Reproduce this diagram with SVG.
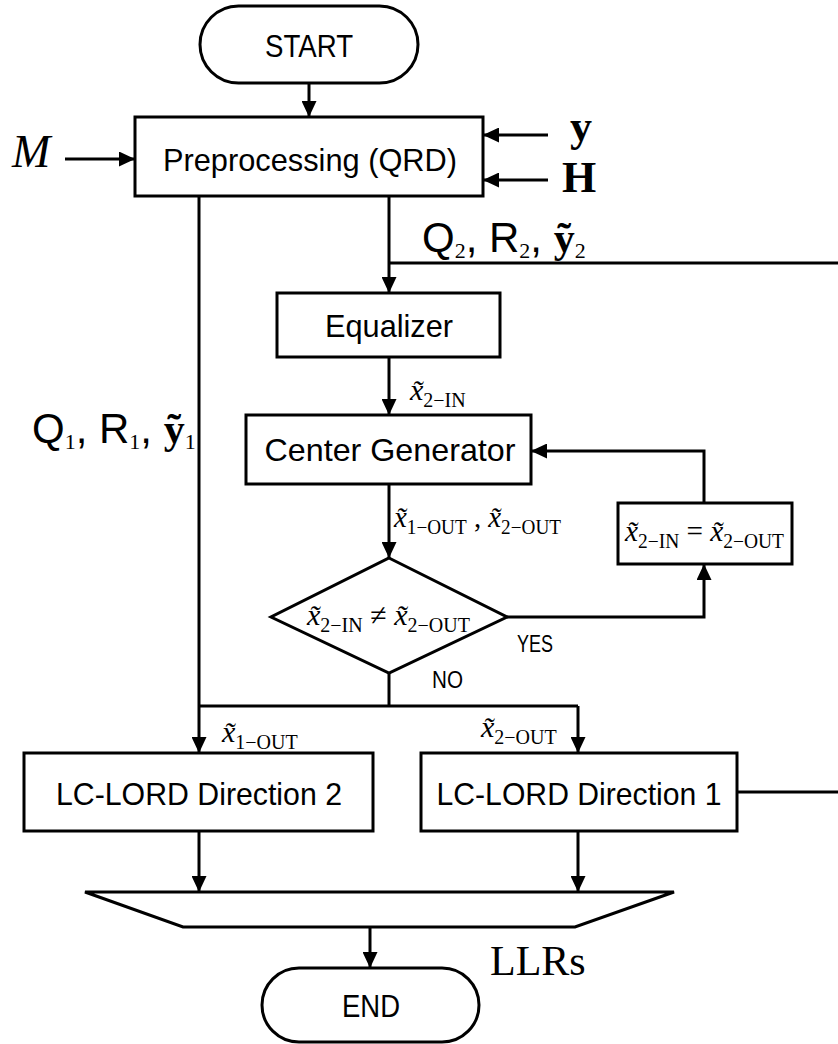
<svg xmlns="http://www.w3.org/2000/svg" width="838" height="1044" viewBox="0 0 838 1044">
<defs>
<marker id="ah" markerUnits="userSpaceOnUse" markerWidth="17" markerHeight="15" refX="16" refY="7.5" orient="auto">
<path d="M0,0 L16,7.5 L0,15 z" fill="#000"/>
</marker>
<style>
.box{fill:#fff;stroke:#000;stroke-width:3}
.ln{fill:none;stroke:#000;stroke-width:3}
.sans{font-family:"Liberation Sans",Arial,sans-serif;fill:#000}
.serif{font-family:"Liberation Serif","Times New Roman",serif;fill:#000}
.lbl{font-size:32px;text-anchor:middle}
.it{font-style:italic}
.sub{font-size:20px}
</style>
</defs>
<rect width="838" height="1044" fill="#fff"/>

<g id="connectors">
<line class="ln" x1="309" y1="83" x2="309" y2="117" marker-end="url(#ah)"/>
<line class="ln" x1="65" y1="159" x2="135" y2="159" marker-end="url(#ah)"/>
<line class="ln" x1="548" y1="135" x2="483" y2="135" marker-end="url(#ah)"/>
<line class="ln" x1="548" y1="180" x2="483" y2="180" marker-end="url(#ah)"/>
<line class="ln" x1="389" y1="196" x2="389" y2="293" marker-end="url(#ah)"/>
<line class="ln" x1="389" y1="263" x2="838" y2="263"/>
<line class="ln" x1="199" y1="196" x2="199" y2="753" marker-end="url(#ah)"/>
<line class="ln" x1="389" y1="357" x2="389" y2="415" marker-end="url(#ah)"/>
<line class="ln" x1="389" y1="484" x2="389" y2="558" marker-end="url(#ah)"/>
<polyline class="ln" points="704,503 704,451 531,451" marker-end="url(#ah)"/>
<polyline class="ln" points="507,617 704,617 704,564" marker-end="url(#ah)"/>
<line class="ln" x1="389" y1="673" x2="389" y2="706"/>
<line class="ln" x1="199" y1="706" x2="578" y2="706"/>
<line class="ln" x1="578" y1="706" x2="578" y2="753" marker-end="url(#ah)"/>
<line class="ln" x1="737" y1="792" x2="838" y2="792"/>
<line class="ln" x1="199" y1="831" x2="199" y2="892" marker-end="url(#ah)"/>
<line class="ln" x1="578" y1="831" x2="578" y2="892" marker-end="url(#ah)"/>
<line class="ln" x1="370" y1="927" x2="370" y2="968" marker-end="url(#ah)"/>
</g>

<g id="start">
<rect class="box" x="200" y="6" width="218" height="77" rx="38.5"/>
<text class="sans lbl" x="309" y="57" textLength="88" lengthAdjust="spacingAndGlyphs">START</text>
</g>

<g id="preprocessing">
<rect class="box" x="135" y="117" width="348" height="79"/>
<text class="sans lbl" x="310" y="171" textLength="294" lengthAdjust="spacingAndGlyphs">Preprocessing (QRD)</text>
</g>

<g id="input-M">
<text class="serif it" x="12" y="167" font-size="46">M</text>
</g>
<g id="input-y">
<text class="serif" x="570" y="141" font-size="44" font-weight="bold">y</text>
</g>
<g id="input-H">
<text class="serif" x="562" y="192" font-size="44" font-weight="bold">H</text>
</g>

<g id="label-Q2">
<text class="sans" x="422" y="252" font-size="42">Q<tspan class="serif" font-size="22" dy="6">2</tspan><tspan dy="-6">, R</tspan><tspan class="serif" font-size="22" dy="6">2</tspan><tspan dy="-6">, </tspan><tspan class="serif" font-weight="bold">ỹ</tspan><tspan class="serif" font-size="22" dy="6">2</tspan></text>
</g>

<g id="label-Q1">
<text class="sans" x="32" y="443" font-size="42">Q<tspan class="serif" font-size="22" dy="6">1</tspan><tspan dy="-6">, R</tspan><tspan class="serif" font-size="22" dy="6">1</tspan><tspan dy="-6">, </tspan><tspan class="serif" font-weight="bold">ỹ</tspan><tspan class="serif" font-size="22" dy="6">1</tspan></text>
</g>

<g id="equalizer">
<rect class="box" x="277" y="293" width="223" height="64"/>
<text class="sans lbl" x="389" y="337" textLength="128" lengthAdjust="spacingAndGlyphs">Equalizer</text>
</g>

<g id="label-x2in">
<text class="serif" x="410" y="400" font-size="30"><tspan class="it">x̃</tspan><tspan class="sub" dy="7">2−IN</tspan></text>
</g>

<g id="center-generator">
<rect class="box" x="246" y="415" width="285" height="69"/>
<text class="sans lbl" x="390" y="461" textLength="251" lengthAdjust="spacingAndGlyphs">Center Generator</text>
</g>

<g id="label-xout">
<text class="serif" x="394" y="527" font-size="30" textLength="167" lengthAdjust="spacingAndGlyphs"><tspan class="it">x̃</tspan><tspan class="sub" dy="7">1−OUT</tspan><tspan dy="-7"> , </tspan><tspan class="it">x̃</tspan><tspan class="sub" dy="7">2−OUT</tspan></text>
</g>

<g id="update">
<rect class="box" x="618" y="503" width="174" height="61"/>
<text class="serif" x="625" y="541" font-size="30" textLength="159" lengthAdjust="spacingAndGlyphs"><tspan class="it">x̃</tspan><tspan class="sub" dy="7">2−IN</tspan><tspan dy="-7"> = </tspan><tspan class="it">x̃</tspan><tspan class="sub" dy="7">2−OUT</tspan></text>
</g>

<g id="decision">
<polygon class="box" points="389,558 507,617 389,673 271,617"/>
<text class="serif" x="307" y="625" font-size="30"><tspan class="it">x̃</tspan><tspan class="sub" dy="7">2−IN</tspan><tspan dy="-7"> ≠ </tspan><tspan class="it">x̃</tspan><tspan class="sub" dy="7">2−OUT</tspan></text>
</g>

<g id="label-yes">
<text class="sans" x="517" y="652" font-size="23" textLength="36" lengthAdjust="spacingAndGlyphs">YES</text>
</g>
<g id="label-no">
<text class="sans" x="432" y="688" font-size="23" textLength="31" lengthAdjust="spacingAndGlyphs">NO</text>
</g>

<g id="label-x1out">
<text class="serif" x="222" y="742" font-size="30"><tspan class="it">x̃</tspan><tspan class="sub" dy="7">1−OUT</tspan></text>
</g>
<g id="label-x2out">
<text class="serif" x="481" y="737" font-size="30"><tspan class="it">x̃</tspan><tspan class="sub" dy="7">2−OUT</tspan></text>
</g>

<g id="lc-lord-2">
<rect class="box" x="24" y="753" width="349" height="78"/>
<text class="sans lbl" x="199" y="805" textLength="286" lengthAdjust="spacingAndGlyphs">LC-LORD Direction 2</text>
</g>

<g id="lc-lord-1">
<rect class="box" x="421" y="753" width="316" height="78"/>
<text class="sans lbl" x="579" y="805" textLength="285" lengthAdjust="spacingAndGlyphs">LC-LORD Direction 1</text>
</g>

<g id="combiner">
<polygon class="box" points="85,892 674,892 575,927 183,927"/>
</g>

<g id="label-llrs">
<text class="serif" x="490" y="975" font-size="42">LLRs</text>
</g>

<g id="end">
<rect class="box" x="262" y="968" width="217" height="74" rx="37"/>
<text class="sans lbl" x="371" y="1017" textLength="58" lengthAdjust="spacingAndGlyphs">END</text>
</g>
</svg>
